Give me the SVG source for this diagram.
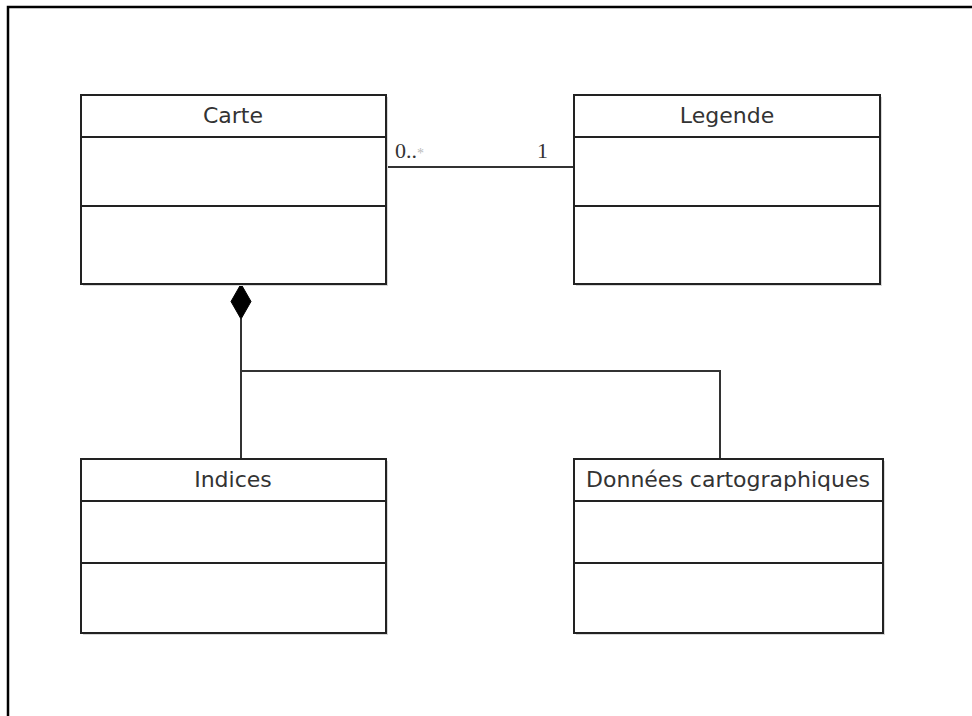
<svg xmlns="http://www.w3.org/2000/svg" width="972" height="716" viewBox="0 0 972 716">
<style>
.shadow{fill:#d8d8d8;stroke:none}
.box{fill:#fff;stroke:#222;stroke-width:2}
.sep{stroke:#222;stroke-width:2}
.name{font-family:"DejaVu Sans","Open Sans",sans-serif;font-size:22px;fill:#333;text-anchor:middle}
.conn{fill:none;stroke:#333;stroke-width:2}
.mult{font-family:"Liberation Serif",serif;font-size:22px;fill:#333}
</style>
<rect width="972" height="716" fill="#fff"/>
<path d="M8,716 V7 H972" fill="none" stroke="#000" stroke-width="2.5"/>
<g id="connectors">
<line class="conn" x1="386" y1="167" x2="574" y2="167"/>
<text class="mult" x="395" y="158">0..<tspan fill="#bbb" font-size="14">*</tspan></text>
<text class="mult" x="537" y="158">1</text>
<polygon points="241,284 251,301.5 241,319 231,301.5" fill="#000" stroke="#000" stroke-width="1"/>
<polyline class="conn" points="241,319 241,459"/>
<polyline class="conn" points="241,371 720,371 720,459"/>
</g>
<g id="carte">
<rect class="shadow" x="83" y="97" width="305" height="189"/>
<rect class="box" x="81" y="95" width="305" height="189"/>
<line class="sep" x1="81" y1="137" x2="386" y2="137"/>
<line class="sep" x1="81" y1="206" x2="386" y2="206"/>
<text class="name" x="233" y="123">Carte</text>
</g>
<g id="legende">
<rect class="shadow" x="576" y="97" width="306" height="189"/>
<rect class="box" x="574" y="95" width="306" height="189"/>
<line class="sep" x1="574" y1="137" x2="880" y2="137"/>
<line class="sep" x1="574" y1="206" x2="880" y2="206"/>
<text class="name" x="727" y="123">Legende</text>
</g>
<g id="indices">
<rect class="shadow" x="83" y="461" width="305" height="174"/>
<rect class="box" x="81" y="459" width="305" height="174"/>
<line class="sep" x1="81" y1="501" x2="386" y2="501"/>
<line class="sep" x1="81" y1="563" x2="386" y2="563"/>
<text class="name" x="233" y="487">Indices</text>
</g>
<g id="donnees">
<rect class="shadow" x="576" y="461" width="309" height="174"/>
<rect class="box" x="574" y="459" width="309" height="174"/>
<line class="sep" x1="574" y1="501" x2="883" y2="501"/>
<line class="sep" x1="574" y1="563" x2="883" y2="563"/>
<text class="name" x="728" y="487">Données cartographiques</text>
</g>
</svg>
